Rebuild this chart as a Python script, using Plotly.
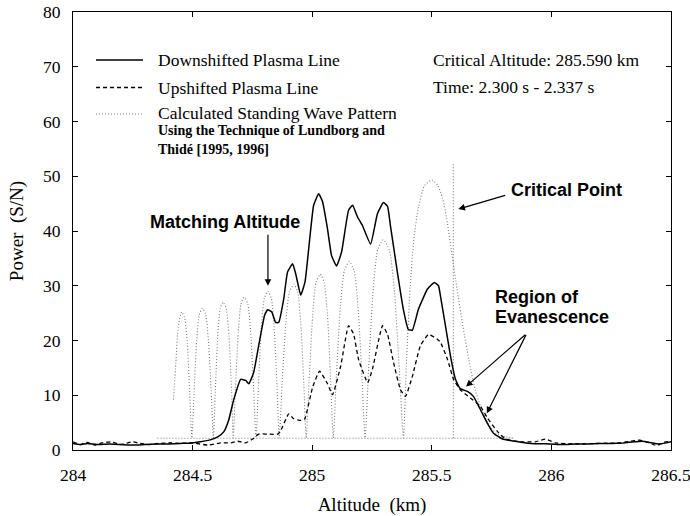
import plotly.graph_objects as go

# ---- Downshifted plasma line (solid) ----
down_alt = [284.00, 284.03, 284.06, 284.10, 284.15, 284.20, 284.25, 284.30, 284.35,
            284.40, 284.45, 284.50, 284.53, 284.57, 284.605, 284.630, 284.651, 284.672,
            284.701, 284.722, 284.735, 284.755, 284.776, 284.801, 284.814, 284.831,
            284.847, 284.860, 284.881, 284.897, 284.918, 284.931, 284.952, 284.970,
            285.006, 285.027, 285.043, 285.064, 285.081, 285.102, 285.123, 285.152,
            285.169, 285.189, 285.210, 285.244, 285.273, 285.298, 285.315, 285.327,
            285.356, 285.381, 285.402, 285.419, 285.444, 285.482, 285.511, 285.528,
            285.536, 285.557, 285.578, 285.599, 285.619, 285.649, 285.674, 285.703,
            285.732, 285.757, 285.795, 285.841, 285.912, 285.995, 286.05, 286.10,
            286.15, 286.20, 286.25, 286.30, 286.35, 286.38, 286.42, 286.45, 286.48, 286.50]
down_pow = [1.2, 1.0, 1.2, 1.0, 1.1, 1.0, 0.9, 1.0, 1.1,
            1.1, 1.2, 1.3, 1.5, 1.8, 2.4, 3.3, 5.5, 9.2,
            12.9, 12.7, 12.1, 14.1, 19.0, 24.6, 25.6, 25.2,
            23.3, 23.3, 27.6, 32.5, 34.0, 32.2, 28.3, 30.7,
            44.7, 46.8, 45.4, 40.4, 35.5, 33.6, 36.2, 43.8,
            44.7, 42.6, 41.0, 37.6, 43.2, 45.2, 44.5, 41.0,
            32.5, 25.7, 22.0, 21.9, 25.7, 29.4, 30.6, 30.0,
            28.2, 22.7, 17.2, 12.9, 11.2, 10.7, 9.8, 7.4,
            4.9, 3.1, 2.0, 1.65, 1.2, 1.1, 1.0, 1.1,
            1.1, 1.2, 1.2, 1.3, 1.5, 1.6, 1.3, 1.1, 1.3, 1.5]

# ---- Upshifted plasma line (dashed) ----
up_alt = [284.00, 284.03, 284.06, 284.09, 284.12, 284.16, 284.20, 284.25, 284.28,
          284.32, 284.36, 284.40, 284.45, 284.50, 284.563, 284.618, 284.660, 284.689,
          284.722, 284.751, 284.776, 284.814, 284.856, 284.868, 284.902, 284.923,
          284.952, 284.968, 285.002, 285.031, 285.064, 285.085, 285.119, 285.152,
          285.173, 285.194, 285.232, 285.252, 285.294, 285.315, 285.340, 285.369,
          285.390, 285.419, 285.452, 285.486, 285.524, 285.536, 285.566, 285.591,
          285.619, 285.661, 285.703, 285.732, 285.774, 285.808, 285.870, 285.933,
          285.975, 286.017, 286.10, 286.20, 286.28, 286.33, 286.37, 286.41, 286.44,
          286.47, 286.50]
up_pow = [1.5, 1.0, 1.4, 0.9, 1.3, 1.5, 1.0, 1.5, 1.2,
          1.0, 1.2, 1.3, 1.2, 1.3, 0.9, 1.3, 1.3, 1.6,
          1.3, 2.0, 2.9, 2.9, 2.9, 3.5, 6.6, 5.7,
          5.4, 5.6, 11.5, 14.4, 12.1, 10.1, 15.3, 22.7,
          21.2, 16.5, 12.3, 14.8, 22.7, 21.1, 16.0, 11.0,
          9.8, 13.5, 19.0, 21.1, 20.2, 19.7, 16.5, 12.9,
          11.0, 9.5, 8.0, 5.9, 3.4, 2.0, 1.5, 1.5,
          2.0, 1.3, 1.1, 1.2, 1.3, 1.6, 1.8, 1.3, 0.8,
          1.4, 1.6]

# ---- Calculated standing wave pattern (dotted) ----
wave_alt = [284.420, 284.430, 284.440, 284.454, 284.467, 284.478, 284.488, 284.497,
            284.506, 284.517, 284.528, 284.541, 284.555, 284.566, 284.578, 284.587,
            284.595, 284.605, 284.615, 284.627, 284.641, 284.652, 284.663, 284.670,
            284.679, 284.691, 284.702, 284.716, 284.731, 284.743, 284.755, 284.765,
            284.775, 284.787, 284.800, 284.815, 284.829, 284.841, 284.853, 284.862,
            284.874, 284.890, 284.905, 284.924, 284.939, 284.952, 284.965, 284.975,
            284.987, 285.002, 285.016, 285.034, 285.050, 285.064, 285.077, 285.088,
            285.101, 285.118, 285.135, 285.155, 285.175, 285.191, 285.208, 285.221,
            285.236, 285.255, 285.274, 285.297, 285.322, 285.343, 285.364, 285.381,
            285.395, 285.410, 285.425, 285.445, 285.470, 285.501, 285.525, 285.545,
            285.565, 285.585, 285.605, 285.630, 285.655, 285.680, 285.705, 285.735,
            285.770, 285.810, 285.840]
wave_pow = [9.2, 16.0, 22.5, 25.2, 24.1, 19.5, 10.3, 2.2,
            10.5, 20.0, 24.7, 25.9, 24.7, 20.0, 10.5, 2.2,
            10.9, 20.8, 25.8, 27.0, 25.8, 20.8, 10.9, 2.2,
            11.2, 21.5, 26.6, 27.9, 26.6, 21.5, 11.2, 2.2,
            11.6, 22.3, 27.7, 29.0, 27.7, 22.3, 11.6, 2.2,
            12.0, 23.3, 28.9, 30.3, 28.9, 23.3, 12.0, 2.2,
            12.7, 24.6, 30.6, 32.1, 30.6, 24.6, 12.7, 2.2,
            13.5, 26.4, 32.8, 34.4, 32.8, 26.4, 13.5, 2.2,
            14.9, 29.4, 36.6, 38.4, 36.6, 29.4, 14.9, 2.2,
            17.0, 30.0, 38.5, 44.5, 48.3, 49.3, 48.3, 46.0,
            41.5, 35.5, 29.5, 22.6, 16.5, 11.2, 7.8, 4.9,
            3.0, 2.4, 2.2]

# floor of the calculated pattern and the critical altitude marker
floor_alt = [284.353, 285.841]
floor_pow = [2.15, 2.15]
critical_alt = 285.590
critical_pow = [2.15, 52.4]

x_ticks = [284, 284.5, 285, 285.5, 286, 286.5]
x_tick_text = ["284", "284.5", "285", "285.5", "286", "286.5"]
y_ticks = [0, 10, 20, 30, 40, 50, 60, 70, 80]

SERIF = "Liberation Serif, Times New Roman, serif"
SANS = "Liberation Sans, Arial, sans-serif"
DOT_COLOR = "#7a7a7a"

fig = go.Figure()

fig.add_trace(go.Scatter(x=floor_alt, y=floor_pow, mode="lines",
                         line=dict(color=DOT_COLOR, width=1.1, dash="1px,2px"),
                         showlegend=False, hoverinfo="skip"))
fig.add_trace(go.Scatter(x=[critical_alt, critical_alt], y=critical_pow, mode="lines",
                         line=dict(color=DOT_COLOR, width=1.1, dash="1px,2px"),
                         showlegend=False, hoverinfo="skip"))
fig.add_trace(go.Scatter(x=wave_alt, y=wave_pow, mode="lines",
                         line=dict(color=DOT_COLOR, width=1.1, dash="1px,2px",
                                   shape="spline", smoothing=0.6),
                         showlegend=False))
fig.add_trace(go.Scatter(x=up_alt, y=up_pow, mode="lines",
                         line=dict(color="black", width=1.3, dash="4px,3px",
                                   shape="spline", smoothing=0.4),
                         showlegend=False))
fig.add_trace(go.Scatter(x=down_alt, y=down_pow, mode="lines",
                         line=dict(color="black", width=1.5,
                                   shape="spline", smoothing=0.4),
                         showlegend=False))

# legend keys (axis-domain coordinates)
legend_rows = [(0.8904, dict(color="black", width=1.5)),
               (0.8276, dict(color="black", width=1.3, dash="4px,3px")),
               (0.7671, dict(color=DOT_COLOR, width=1.1, dash="1px,2px"))]
for yy, ln in legend_rows:
    fig.add_shape(type="line", xref="x domain", yref="y domain",
                  x0=0.0385, x1=0.117, y0=yy, y1=yy, line=ln)

notes = [
    ("Downshifted Plasma Line", 0.1405, 0.8904, 17.5, SERIF, False),
    ("Upshifted Plasma Line", 0.1405, 0.8276, 17.5, SERIF, False),
    ("Calculated Standing Wave Pattern", 0.1405, 0.7700, 17.5, SERIF, False),
    ("Using the Technique of Lundborg and", 0.1405, 0.7290, 14, SERIF, True),
    ("Thidé [1995, 1996]", 0.1405, 0.6850, 14, SERIF, True),
    ("Critical Altitude: 285.590 km", 0.6003, 0.8904, 17.5, SERIF, False),
    ("Time: 2.300 s - 2.337 s", 0.6003, 0.828, 17.5, SERIF, False),
]
for txt, xx, yy, sz, fam, bold in notes:
    fig.add_annotation(text=f"<b>{txt}</b>" if bold else txt, xref="x domain", yref="y domain",
                       x=xx, y=yy, xanchor="left", yanchor="middle", showarrow=False,
                       borderpad=0, font=dict(family=fam, size=sz, color="black"))

labels = [
    ("Matching Altitude", 284.635, 41.7, "center"),
    ("Critical Point", 285.827, 47.5, "left"),
    ("Region of", 285.760, 28.0, "left"),
    ("Evanescence", 285.760, 24.3, "left"),
]
for txt, xx, yy, anc in labels:
    fig.add_annotation(text=f"<b>{txt}</b>", x=xx, y=yy, xanchor=anc, yanchor="middle",
                       showarrow=False, borderpad=0,
                       font=dict(family=SANS, size=18, color="black"))

arrows = [
    (284.815, 30.0, 284.815, 39.6),
    (285.611, 44.0, 285.813, 46.6),
    (285.643, 11.6, 285.897, 21.3),
    (285.730, 6.7, 285.897, 21.3),
]
for x, y, ax, ay in arrows:
    fig.add_annotation(x=x, y=y, ax=ax, ay=ay, axref="x", ayref="y", text="",
                       showarrow=True, arrowhead=2, arrowsize=1.1, arrowwidth=1.2,
                       arrowcolor="black")

axis_common = dict(showline=True, linecolor="black", linewidth=1.2, mirror="ticks",
                   ticks="inside", ticklen=5, tickcolor="black", tickwidth=1,
                   showgrid=False, zeroline=False, automargin=False,
                   tickfont=dict(family=SERIF, size=17.5, color="black"))

fig.update_xaxes(range=[284, 286.5], tickvals=x_ticks, ticktext=x_tick_text,
                 ticklabelstandoff=9, ticklabeloverflow="allow",
                 title=dict(text="Altitude  (km)", font=dict(family=SERIF, size=19, color="black"),
                            standoff=16),
                 **axis_common)
fig.update_yaxes(range=[0, 80], tickvals=y_ticks, ticklabelstandoff=8,
                 ticklabeloverflow="allow",
                 title=dict(text="Power  (S/N)", font=dict(family=SERIF, size=19, color="black"),
                            standoff=14),
                 **axis_common)

fig.update_layout(width=690, height=516, margin=dict(l=73, r=19, t=12, b=66),
                  plot_bgcolor="white", paper_bgcolor="white", showlegend=False)

fig.write_html("out.html")
